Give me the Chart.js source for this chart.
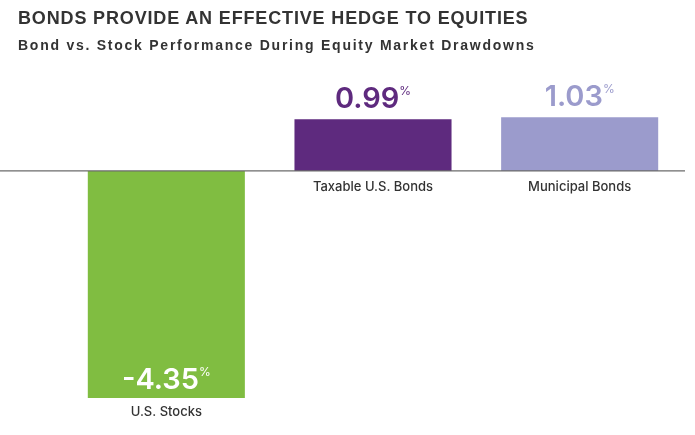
<!DOCTYPE html>
<html>
<head>
<meta charset="utf-8">
<script src="https://cdn.jsdelivr.net/npm/chart.js@4"></script>
<style>
  body { margin: 0; background: #fff; }
  #wrap { position: relative; width: 695px; height: 435px; }
  #title { position: absolute; left: 18px; top: 8px; font: bold 18px "Liberation Sans", Arial, sans-serif; color: #333; letter-spacing: 0.85px; }
  #subtitle { position: absolute; left: 18px; top: 37px; font: bold 14px "Liberation Sans", Arial, sans-serif; color: #333; letter-spacing: 1.75px; }
  canvas { position: absolute; left: 0; top: 0; }
</style>
</head>
<body>
<div id="wrap">
  <canvas id="chart" width="695" height="435"></canvas>
  <div id="title">BONDS PROVIDE AN EFFECTIVE HEDGE TO EQUITIES</div>
  <div id="subtitle">Bond vs. Stock Performance During Equity Market Drawdowns</div>
</div>
<script>
// Chart data
const categories = ["U.S. Stocks", "Taxable U.S. Bonds", "Municipal Bonds"];
const returns = [-4.35, 0.99, 1.03];
const barColors = ["#80bd41", "#5e2a7e", "#9b9bcc"];
const labelColors = ["#ffffff", "#5e2a7e", "#9b9bcc"];

// Zero line across the full width + value and category labels
const labelPlugin = {
  id: "labels",
  afterDatasetsDraw(chart) {
    const ctx = chart.ctx;
    const y0 = chart.scales.y.getPixelForValue(0);
    ctx.save();
    ctx.strokeStyle = "#6b6b6b";
    ctx.lineWidth = 1.2;
    ctx.beginPath();
    ctx.moveTo(0, y0);
    ctx.lineTo(685, y0);
    ctx.stroke();

    const bars = chart.getDatasetMeta(0).data;
    bars.forEach((bar, i) => {
      const v = returns[i];
      const num = v.toFixed(2);
      ctx.font = "600 29px Inter, sans-serif";
      const wNum = ctx.measureText(num).width;
      ctx.font = "12px Inter, sans-serif";
      const wPct = ctx.measureText("%").width;
      const x0 = bar.x - (wNum + wPct) / 2;
      const yBase = v >= 0 ? bar.y - 11 : bar.y - 9;
      ctx.fillStyle = labelColors[i];
      ctx.textBaseline = "alphabetic";
      ctx.textAlign = "left";
      ctx.font = "600 29px Inter, sans-serif";
      ctx.fillText(num, x0, yBase);
      ctx.font = "12px Inter, sans-serif";
      ctx.fillText("%", x0 + wNum, yBase - 13);

      // category label
      ctx.fillStyle = "#333";
      ctx.font = "500 13px Inter, sans-serif";
      ctx.textAlign = "center";
      ctx.textBaseline = "middle";
      const yCat = v >= 0 ? y0 + 16 : bar.y + 14;
      ctx.fillText(categories[i], bar.x, yCat);
    });
    ctx.restore();
  }
};

new Chart(document.getElementById("chart"), {
  type: "bar",
  data: {
    labels: categories,
    datasets: [
      {
        data: returns,
        backgroundColor: barColors,
        barPercentage: 0.76,
        categoryPercentage: 1,
      },
    ],
  },
  options: {
    responsive: false,
    animation: false,
    layout: { padding: { left: 63, right: 12, top: 77, bottom: 37 } },
    plugins: { legend: { display: false }, tooltip: { enabled: false } },
    scales: {
      x: { display: false },
      y: { display: false, min: -4.35, max: 1.8 },
    },
  },
  plugins: [labelPlugin],
});
</script>
</body>
</html>
